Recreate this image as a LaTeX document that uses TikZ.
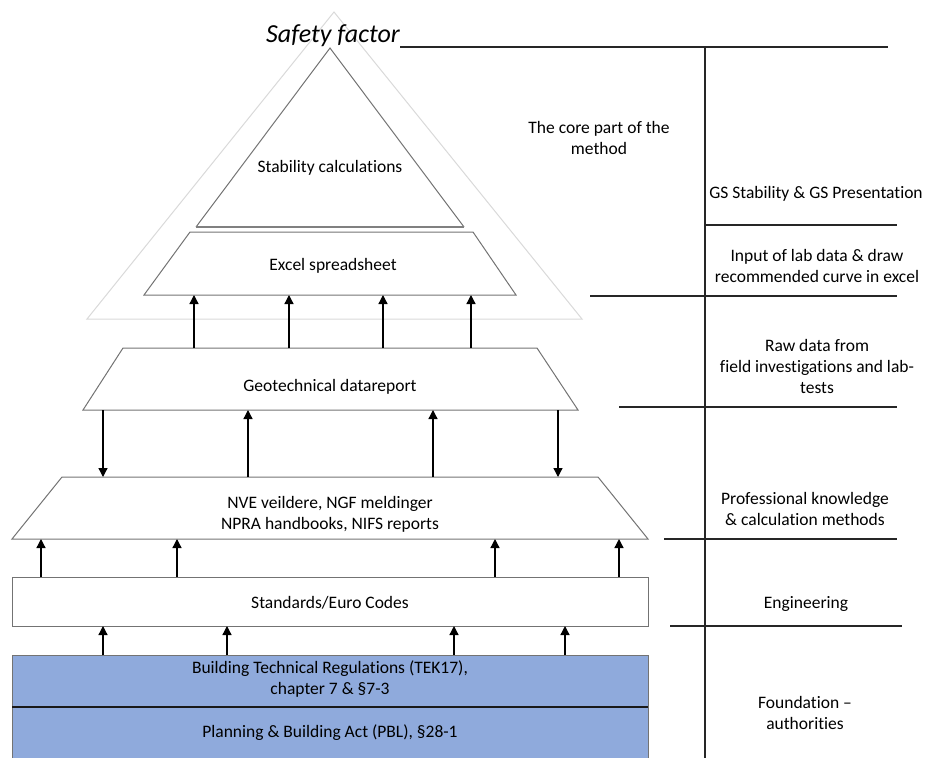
\documentclass[tikz,border=0pt]{standalone}
\usepackage{fontspec}
\setmainfont[Ligatures={NoCommon}]{Carlito}
\usetikzlibrary{arrows.meta}
\definecolor{bluefill}{HTML}{8FAADC}
\begin{document}
\begin{tikzpicture}[x=1pt,y=-1pt,
  shapeline/.style={draw=black!55, line width=1pt},
  arr/.style={draw=black, line width=1.3pt, -{Triangle[length=9pt,width=9pt]}},
  rline/.style={draw=black!85, line width=1.2pt},
  lbl/.style={align=center, font=\fontsize{17.5}{21}\selectfont, inner sep=0pt, yshift=-1.5pt},
]
\path[use as bounding box] (0,0) rectangle (927,758);
% outer light triangle
\draw[black!15, line width=1pt] (87,319) -- (334,12) -- (582,319) -- cycle;
% inner triangle
\draw[shapeline] (196,227) -- (330,48) -- (464,227);
\draw[black!50, line width=1.6pt] (196,227) -- (464,227);
\node[lbl] (stab) at (330,166) {Stability calculations};
% excel trapezoid
\draw[shapeline] (144,295) -- (190,232) -- (473,232) -- (516,295) -- cycle;
\node[lbl] (excel) at (333,264) {Excel spreadsheet};
% geotechnical trapezoid
\draw[shapeline] (83,410) -- (123,348) -- (537,348) -- (578,410) -- cycle;
\node[lbl] (geo) at (330,385) {Geotechnical datareport};
% NVE trapezoid
\draw[shapeline] (12,539) -- (62,477) -- (598,477) -- (648,539) -- cycle;
\node[lbl] (nve) at (330,513) {NVE veildere, NGF meldinger\\NPRA handbooks, NIFS reports};
% standards box
\node[shapeline, minimum width=636pt, minimum height=49pt, inner sep=0pt] (std) at (330,601.5) {};
\node[lbl] (stdt) at (330,601) {Standards/Euro Codes};
% blue boxes
\fill[bluefill] (12,655) rectangle (648,758);
\draw[black!55, line width=1pt] (12,758) -- (12,655) -- (648,655) -- (648,758);
\draw[black!90, line width=1.2pt] (12,707) -- (648,707);
\node[lbl] (tek) at (330,677.5) {Building Technical Regulations (TEK17),\\chapter 7 \& §7-3};
\node[lbl] (pbl) at (330,731) {Planning \& Building Act (PBL), §28-1};
% arrows
\foreach \x [count=\i] in {194,289,383,471} {
  \coordinate (eb\i) at (\x,295); \coordinate (gt\i) at (\x,348);
  \draw[arr] (gt\i) -- (eb\i);
}
\coordinate (gb1) at (103,410); \coordinate (nt1) at (103,477);
\coordinate (gb2) at (248,410); \coordinate (nt2) at (248,477);
\coordinate (gb3) at (433,410); \coordinate (nt3) at (433,477);
\coordinate (gb4) at (558,410); \coordinate (nt4) at (558,477);
\draw[arr] (gb1) -- (nt1);
\draw[arr] (nt2) -- (gb2);
\draw[arr] (nt3) -- (gb3);
\draw[arr] (gb4) -- (nt4);
\foreach \x [count=\i] in {41,177,495,619} {
  \coordinate (nb\i) at (\x,539); \coordinate (st\i) at (\x,577);
  \draw[arr] (st\i) -- (nb\i);
}
\foreach \x [count=\i] in {103,227,454,565} {
  \coordinate (sb\i) at (\x,626); \coordinate (bt\i) at (\x,655);
  \draw[arr] (bt\i) -- (sb\i);
}
% safety factor
\node[inner sep=0pt, font=\fontsize{26}{30}\selectfont\itshape] (sf) at (333,36) {Safety factor};
% right side lines
\coordinate (v1) at (705,47); \coordinate (v2) at (705,758);
\draw[rline] (v1) -- (v2);
\coordinate (h0a) at (400,47); \coordinate (h0b) at (888,47);
\draw[rline] (h0a) -- (h0b);
\coordinate (h1a) at (705,225); \coordinate (h1b) at (897,225);
\draw[rline] (h1a) -- (h1b);
\coordinate (h2a) at (590,296); \coordinate (h2b) at (897,296);
\draw[rline] (h2a) -- (h2b);
\coordinate (h3a) at (619,407); \coordinate (h3b) at (897,407);
\draw[rline] (h3a) -- (h3b);
\coordinate (h4a) at (664,539); \coordinate (h4b) at (897,539);
\draw[rline] (h4a) -- (h4b);
\coordinate (h5a) at (670,626); \coordinate (h5b) at (902,626);
\draw[rline] (h5a) -- (h5b);
% right labels
\node[lbl] (core) at (599,136.5) {The core part of the\\method};
\node[lbl] (gs) at (816,192) {GS Stability \& GS Presentation};
\node[lbl] (inp) at (817,264) {Input of lab data \& draw\\recommended curve in excel};
\node[lbl] (raw) at (817,365) {Raw data from\\field investigations and lab-\\tests};
\node[lbl] (prof) at (805,507.5) {Professional knowledge\\\& calculation methods};
\node[lbl] (eng) at (806,602) {Engineering};
\node[lbl] (fnd) at (805,711.5) {Foundation –\\authorities};
\end{tikzpicture}
\end{document}
